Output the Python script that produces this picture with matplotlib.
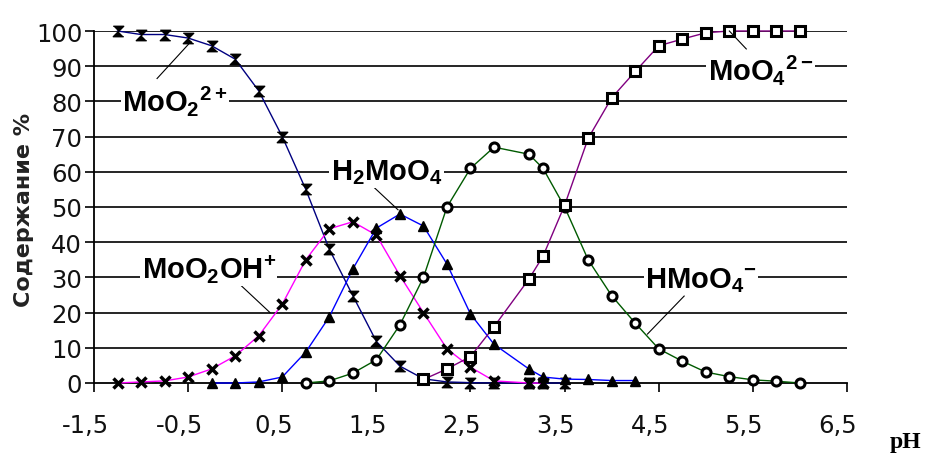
import matplotlib
matplotlib.use("Agg")
import matplotlib.pyplot as plt
from matplotlib.transforms import ScaledTranslation

# pH values of the computed points
ph = [-1.25, -1.0, -0.75, -0.5, -0.25, 0.0, 0.25, 0.5, 0.75, 1.0, 1.25, 1.5,
      1.75, 2.0, 2.25, 2.5, 2.75, 3.12, 3.27, 3.5, 3.75, 4.0, 4.25, 4.5,
      4.75, 5.0, 5.25, 5.5, 5.75, 6.0]

# content of each form, %
moo2 = [100, 99, 99, 98, 95.8, 92, 83, 70, 55, 38, 24.8, 11.8, 4.8, 1.2,
        0.3, 0.1, 0, 0, 0, 0]
moo2oh = [0, 0.3, 0.6, 1.7, 4, 7.7, 13.4, 22.4, 35, 43.8, 45.8, 42, 30.5,
          20, 9.7, 4.5, 0.6, 0, 0]
h2moo4 = [0, 0, 0.3, 1.7, 8.8, 18.8, 32.4, 44, 48, 44.6, 33.8, 19.6, 11,
          4, 1.7, 1.1, 1, 0.7, 0.7]
hmoo4 = [0, 0.6, 2.8, 6.6, 16.5, 30, 50, 61, 67, 65, 61, 50, 35, 24.8, 17,
         9.7, 6.2, 3.1, 1.8, 0.9, 0.5, 0]
moo4 = [1, 4, 7.5, 16, 29.5, 36, 50.5, 69.5, 81, 88.5, 95.8, 97.7, 99.5,
        100, 100, 100, 100]

xticks = [-1.5, -0.5, 0.5, 1.5, 2.5, 3.5, 4.5, 5.5, 6.5]
xlabels = ["-1,5", "-0,5", "0,5", "1,5", "2,5", "3,5", "4,5", "5,5", "6,5"]
yticks = list(range(0, 101, 10))

plt.rcParams["mathtext.default"] = "regular"
label_font = ["Liberation Sans", "DejaVu Sans"]

fig = plt.figure(figsize=(9.28, 4.56), dpi=100)
ax = fig.add_axes([94 / 928, 1 - 384 / 456, 753 / 928, 352 / 456])

for y in yticks[1:]:
    ax.axhline(y, color="black", lw=1.2, zorder=1)

hourglass = [(-1, 1), (1, 1), (-1, -1), (1, -1)]
ms = 7.5
ax.plot(ph[:20], moo2, color="#000080", lw=1, marker=hourglass, ms=ms,
        mfc="black", mec="black", zorder=3, clip_on=False)
ax.plot(ph[:19], moo2oh, color="#ff00ff", lw=1, marker="x", ms=ms - 1,
        mec="black", mew=2.5, zorder=3, clip_on=False)
ax.plot(ph[4:23], h2moo4, color="#0000ff", lw=1, marker="^", ms=ms,
        mfc="black", mec="black", zorder=3, clip_on=False)
ax.plot(ph[8:], hmoo4, color="#005a00", lw=1, marker="o", ms=ms - 1,
        mfc="white", mec="black", mew=2.2, zorder=3, clip_on=False)
ax.plot(ph[13:], moo4, color="#800080", lw=1, marker="s", ms=ms - 0.5,
        mfc="white", mec="black", mew=2.2, zorder=3, clip_on=False)

ax.set_xlim(-1.5, 6.5)
ax.set_ylim(0, 100)
ax.set_xticks(xticks)
ax.set_xticklabels(xlabels)
ax.set_yticks(yticks)
for s in ["top", "right"]:
    ax.spines[s].set_visible(False)
ax.spines["left"].set_linewidth(1.3)
ax.spines["bottom"].set_linewidth(1.3)
ax.tick_params(axis="y", direction="out", length=6.5, width=1.2, pad=2,
               labelsize=17.5, labelcolor="#111111")
ax.tick_params(axis="x", direction="out", length=6.5, width=1.2, pad=15,
               labelsize=17.5, labelcolor="#111111")
shift = ScaledTranslation(-9 / 100, 0, fig.dpi_scale_trans)
for lbl in ax.get_xticklabels():
    lbl.set_transform(lbl.get_transform() + shift)

# species labels with leader lines
box = dict(facecolor="white", edgecolor="none", pad=1)
labels = [
    ("MoO$_2$$^{2+}$", -0.64, 80.5, [(-0.83, -0.47), (86.5, 97)]),
    ("H$_2$MoO$_4$", 1.61, 60, [(1.47, 1.73), (55.7, 49.2)]),
    ("MoO$_2$OH$^{+}$", -0.28, 32.5, [(0.05, 0.37), (28, 20)]),
    ("HMoO$_4$$^{-}$", 4.95, 29.5, [(4.77, 4.38), (24.7, 13.9)]),
    ("MoO$_4$$^{2-}$", 5.58, 89.3, [(5.43, 5.25), (94.9, 100)]),
]
for txt, x, y, (lx, ly) in labels:
    ax.plot(lx, ly, color="black", lw=0.8, zorder=4, clip_on=False)
    ax.text(x, y, txt, ha="center", va="center", fontsize=21,
            family=label_font, weight="bold", bbox=box, zorder=5)

fig.text(24 / 928, 1 - 210 / 456, "Содержание %", rotation=90,
         ha="center", va="center", fontsize=16, weight="bold",
         color="#222222")
fig.text(906 / 928, 1 - 443 / 456, "pH", ha="center", va="center",
         fontsize=17, weight="bold", family="Liberation Serif")

fig.savefig("out.png", dpi=100)
